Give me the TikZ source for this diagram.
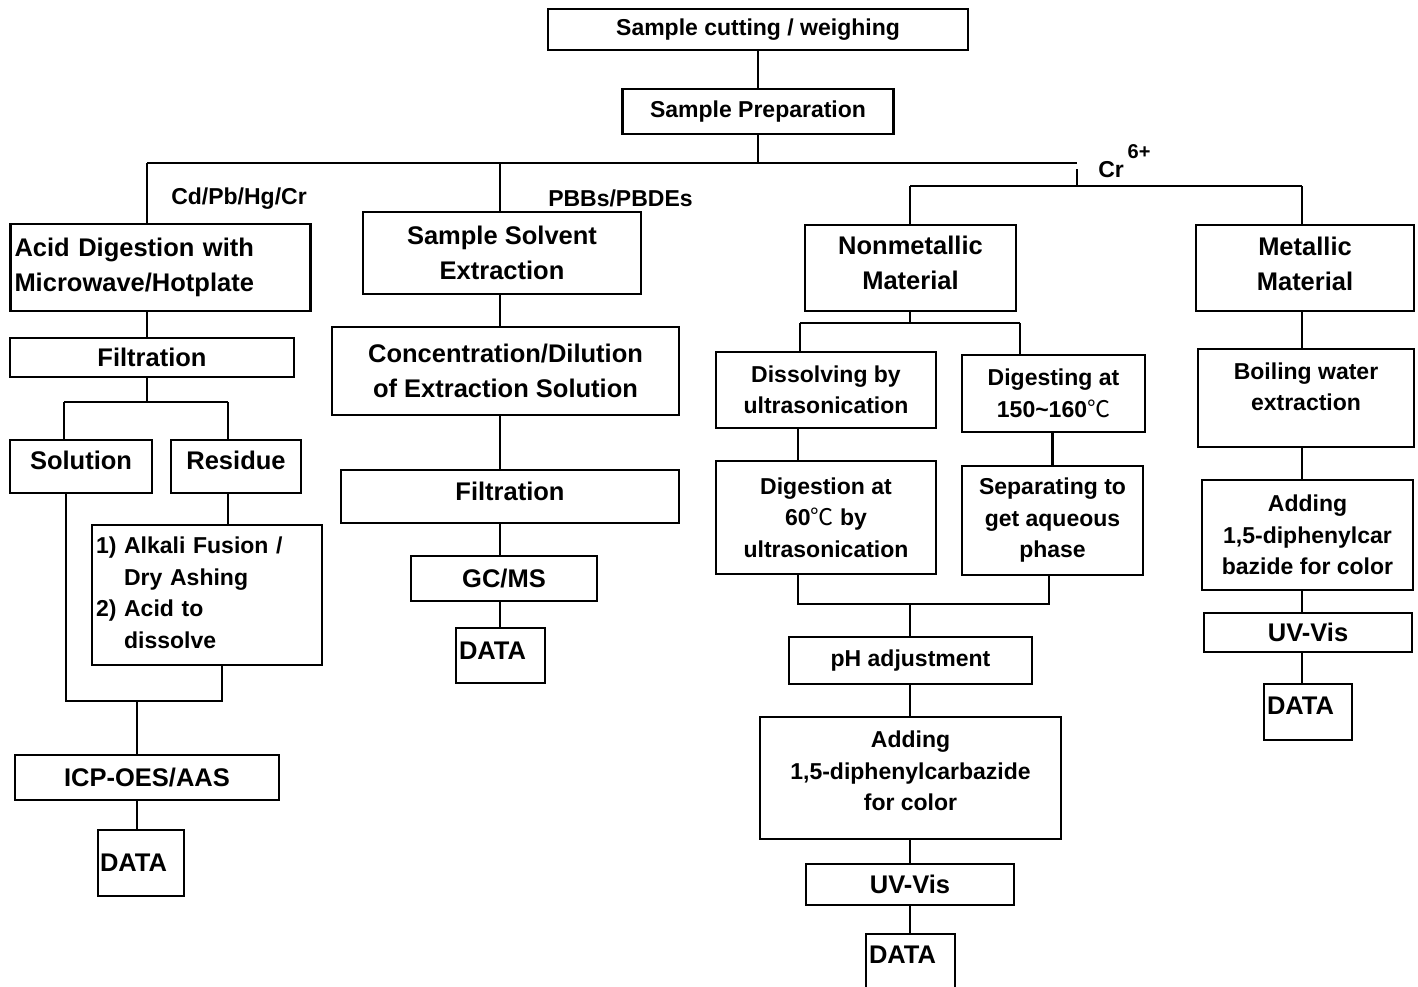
\documentclass[tikz,border=0pt]{standalone}
\usepackage{fontspec}
\setmainfont{Liberation Sans}
\newfontface\degc{Noto Sans CJK SC}
\newcommand{\up}[2]{\raisebox{#1}[\height][\depth]{#2}}

\begin{document}
\begin{tikzpicture}[x=1pt, y=-1pt, line width=2.5pt,
  block/.style = {draw, inner sep=0pt, align=center},
  lblock/.style = {draw, inner ysep=0pt, inner xsep=4pt, align=left},
  smalltxt/.style = {font=\bfseries\fontsize{23}{31.5}\selectfont},
  bigtxt/.style = {font=\bfseries\fontsize{25.5}{35}\selectfont}]
\useasboundingbox (0,0) rectangle (1418,986);
\clip (0,0) rectangle (1418,986);

% top
\node[block, smalltxt, minimum width=420pt, minimum height=41pt] (cut) at (758,29.5) {Sample cutting / weighing};
\node[block, smalltxt, minimum width=271pt, minimum height=45pt] (prep) at (758,111.5) {Sample Preparation};

% Cd/Pb/Hg/Cr
\node[lblock, bigtxt, text width=292pt, minimum height=87pt] (acid) at (160.5,267.5) {Acid Digestion with\\Microwave/Hotplate};
\node[block, bigtxt, minimum width=284pt, minimum height=39pt] (filt1) at (152,357.5) {Filtration};
\node[block, bigtxt, minimum width=142pt, minimum height=53pt] (sol) at (81,466.5) {\up{6pt}{Solution}};
\node[block, bigtxt, minimum width=130pt, minimum height=53pt] (res) at (236,466.5) {\up{6pt}{Residue}};
\node[lblock, smalltxt, text width=222pt, minimum height=140pt] (fusion) at (207,595) {1) Alkali Fusion /\\\phantom{1) }Dry Ashing\\2) Acid to\\\phantom{2) }dissolve};
\node[block, bigtxt, minimum width=264pt, minimum height=45pt] (icp) at (147,777.5) {ICP-OES/AAS};
\node[lblock, bigtxt, inner xsep=2pt, text width=82pt, minimum height=66pt] (data1) at (141,863) {DATA};

% PBBs/PBDEs
\node[block, bigtxt, minimum width=278pt, minimum height=82pt] (solv) at (502,253) {Sample Solvent\\Extraction};
\node[block, bigtxt, minimum width=347pt, minimum height=88pt] (conc) at (505.5,371) {Concentration/Dilution\\of Extraction Solution};
\node[block, bigtxt, minimum width=338pt, minimum height=53pt] (filt2) at (510,496.5) {\up{5pt}{Filtration}};
\node[block, bigtxt, minimum width=186pt, minimum height=45pt] (gcms) at (504,578.5) {GC/MS};
\node[lblock, bigtxt, inner xsep=3pt, text width=83pt, minimum height=55pt] (data2) at (500.5,655.5) {\up{5pt}{DATA}};

% Cr6+, nonmetallic
\node[block, bigtxt, minimum width=211pt, minimum height=86pt] (nonmet) at (910.5,268) {\up{5pt}{Nonmetallic}\\\up{5pt}{Material}};
\node[block, smalltxt, minimum width=220pt, minimum height=76pt] (dissolve) at (826,390) {Dissolving by\\ultrasonication};
\node[block, smalltxt, minimum width=183pt, minimum height=77pt] (digest) at (1053.5,393.5) {Digesting at\\150\textasciitilde160{\degc ℃}};
\node[block, smalltxt, minimum width=220pt, minimum height=113pt] (dig60) at (826,517.5) {Digestion at\\60{\degc ℃} by\\ultrasonication};
\node[block, smalltxt, minimum width=181pt, minimum height=109pt] (sep) at (1052.5,520.5) {Separating to\\get aqueous\\phase};
\node[block, smalltxt, minimum width=243pt, minimum height=47pt] (ph) at (910.5,660.5) {pH adjustment};
\node[block, smalltxt, minimum width=301pt, minimum height=122pt] (add1) at (910.5,778) {\up{7pt}{Adding}\\\up{7pt}{1,5-diphenylcarbazide}\\\up{7pt}{for color}};
\node[block, bigtxt, minimum width=208pt, minimum height=41pt] (uv1) at (910,884.5) {UV-Vis};
\node[lblock, bigtxt, inner xsep=3pt, text width=83pt, minimum height=58pt] (data3) at (910.5,963) {\up{8pt}{DATA}};

% Cr6+, metallic
\node[block, bigtxt, minimum width=218pt, minimum height=86pt] (met) at (1305,268) {\up{4pt}{Metallic}\\\up{4pt}{Material}};
\node[block, smalltxt, minimum width=216pt, minimum height=98pt] (boil) at (1306,398) {\up{11pt}{Boiling water}\\\up{11pt}{extraction}};
\node[block, smalltxt, minimum width=211pt, minimum height=110pt] (add2) at (1307.5,535) {Adding\\1,5-diphenylcar\\bazide for color};
\node[block, bigtxt, minimum width=208pt, minimum height=39pt] (uv2) at (1308,632.5) {UV-Vis};
\node[lblock, bigtxt, inner xsep=3pt, text width=82pt, minimum height=56pt] (data4) at (1308,712) {\up{6pt}{DATA}};

% branch labels
\node[smalltxt, anchor=base west, inner sep=0pt] (lcd) at (170,204) {Cd/Pb/Hg/Cr};
\node[smalltxt, anchor=base west, inner sep=0pt] (lpbb) at (547,206) {PBBs/PBDEs};
\node[smalltxt, anchor=base west, inner sep=0pt] (lcr) at (1097,177) {Cr\,\raisebox{19pt}{\fontsize{20}{20}\selectfont 6+}};

% bus lines
\coordinate (busL) at (147,163);
\coordinate (busR) at (1077,163);
\coordinate (mid) at (500,163);
\coordinate (crT) at (1077,169);
\coordinate (crL) at (910,186);
\coordinate (crR) at (1302,186);
\draw (cut) -- (prep);
\draw (prep.south) -- (prep.south |- busL);
\draw (busL) -- (busR);
\draw (busL) -- (busL |- acid.north);
\draw (mid) -- (mid |- solv.north);
\draw (crT) -- (crT |- crL);
\draw (crL) -- (crR);
\draw (crL) -- (crL |- nonmet.north);
\draw (crR) -- (crR |- met.north);

% left column
\coordinate (j1L) at (64,402);
\coordinate (j1R) at (228,402);
\coordinate (j2L) at (66,701);
\coordinate (j2R) at (222,701);
\coordinate (j2) at (137,701);
\draw (acid.south -| busL) -- (busL |- filt1.north);
\draw (filt1.south -| busL) -- (busL |- j1L);
\draw (j1L) -- (j1R);
\draw (j1L) -- (j1L |- sol.north);
\draw (j1R) -- (j1R |- res.north);
\draw (res.south -| j1R) -- (j1R |- fusion.north);
\draw (sol.south -| j2L) -- (j2L) -- (j2R) -- (j2R |- fusion.south);
\draw (j2) -- (j2 |- icp.north);
\draw (icp.south -| j2) -- (j2 |- data1.north);

% middle column
\draw (solv.south -| mid) -- (mid |- conc.north);
\draw (conc.south -| mid) -- (mid |- filt2.north);
\draw (filt2.south -| mid) -- (mid |- gcms.north);
\draw (gcms.south -| mid) -- (mid |- data2.north);

% nonmetallic column
\coordinate (j3) at (910,323);
\coordinate (j3L) at (800,323);
\coordinate (j3R) at (1020,323);
\coordinate (j4) at (910,604);
\coordinate (j4L) at (798,604);
\coordinate (j4R) at (1049,604);
\draw (nonmet.south -| j3) -- (j3);
\draw (j3L) -- (j3R);
\draw (j3L) -- (j3L |- dissolve.north);
\draw (j3R) -- (j3R |- digest.north);
\draw (dissolve.south -| j4L) -- (j4L |- dig60.north);
\draw (digest.south -| sep.north) -- (sep.north);
\draw (dig60.south -| j4L) -- (j4L) -- (j4R) -- (j4R |- sep.south);
\draw (j4) -- (j4 |- ph.north);
\draw (ph.south -| j4) -- (j4 |- add1.north);
\draw (add1.south -| j4) -- (j4 |- uv1.north);
\draw (uv1.south -| j4) -- (j4 |- data3.north);

% metallic column
\draw (met.south -| crR) -- (crR |- boil.north);
\draw (boil.south -| crR) -- (crR |- add2.north);
\draw (add2.south -| crR) -- (crR |- uv2.north);
\draw (uv2.south -| crR) -- (crR |- data4.north);
\end{tikzpicture}
\end{document}
